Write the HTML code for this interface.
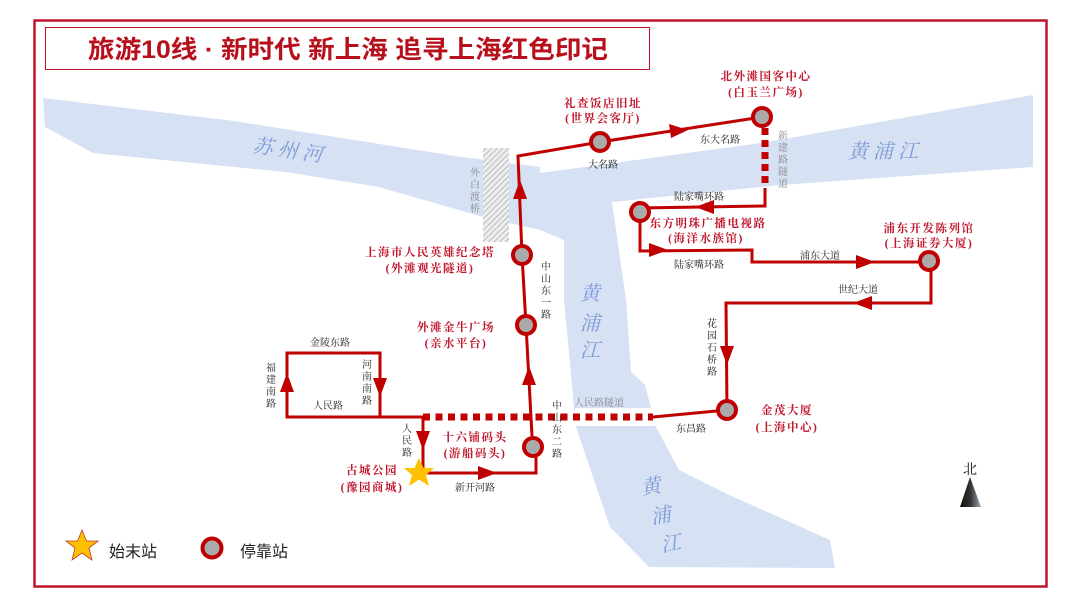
<!DOCTYPE html>
<html><head><meta charset="utf-8"><style>
html,body{margin:0;padding:0;background:#fff;}
svg{display:block;}
text{font-family:"Liberation Serif","Noto Serif CJK SC","Noto Sans CJK SC",serif;}
.s{font-size:10px;fill:#222;}
.r{font-size:11.5px;fill:#c0142a;font-weight:bold;letter-spacing:1.5px;}
.b{font-size:20px;fill:#7d9bd6;font-style:italic;}
.g{font-size:10px;fill:#888;}
</style></head><body>
<svg width="1080" height="608" viewBox="0 0 1080 608" xmlns="http://www.w3.org/2000/svg">
<defs>
<pattern id="h" width="4" height="4" patternUnits="userSpaceOnUse" patternTransform="rotate(45)">
<rect width="4" height="4" fill="#eee"/><line x1="0" y1="0" x2="0" y2="4" stroke="#aaa" stroke-width="1.5"/></pattern>
<linearGradient id="ng" x1="0" x2="1"><stop offset="0" stop-color="#111"/><stop offset="0.5" stop-color="#333"/><stop offset="1" stop-color="#9ab"/></linearGradient>
<marker id="a" viewBox="0 0 10 10" refX="5" refY="5" markerWidth="6" markerHeight="6" orient="auto"><path d="M0,0L10,5L0,10z" fill="#c00000"/></marker>
</defs>
<rect x="34.5" y="20.5" width="1012" height="566" fill="none" stroke="#c0142a" stroke-width="2.5"/>
<rect x="45.5" y="27.5" width="604" height="42" fill="none" stroke="#c0142a" stroke-width="1"/>
<text x="88" y="58" textLength="520" lengthAdjust="spacingAndGlyphs" style="font-family:'Liberation Sans','Noto Sans CJK SC',sans-serif;font-size:25px;font-weight:bold;fill:#b80f1c">旅游10线 · 新时代 新上海 追寻上海红色印记</text>

<!-- rivers -->
<path d="M43,98 L234,121 L462,157 L540,167 L540,173 L761,143 L1033,95 L1033,167 L781,185 L612,202 L626,300 L631,372 L645,385 L656,427 L679,470 L725,493 L830,540 L835,568 L649,567 L610,527 L576,427 L564,300 L564,240 L540,230 L483,217 L379,187 L286,172 L93,153 L45,127 Z" fill="#d6e1f4"/>
<rect x="575" y="408" width="80" height="18" fill="#fff"/>
<rect x="483" y="148" width="26" height="94" fill="url(#h)"/>
<text class="b" transform="translate(252,152) rotate(8)">苏 州 河</text>
<text class="b" x="848" y="158">黄 浦 江</text>
<text class="b" x="580" y="300">黄</text><text class="b" x="580" y="330">浦</text><text class="b" x="580" y="357">江</text>
<text class="b" transform="translate(642,495) rotate(-10)">黄</text><text class="b" transform="translate(652,524) rotate(-10)">浦</text><text class="b" transform="translate(662,552) rotate(-10)">江</text>

<!-- route -->
<g fill="none" stroke="#c00000" stroke-width="3">
<path d="M287,417 L287,353 L380,353 L380,417 Z"/>
<path d="M380,417 L423,417 L423,473"/>
<path d="M423,473 L536,473 L536,447"/>
<path d="M532,436 L526,325 L522,255 L518,156 L600,142 L762,117"/>
<path d="M765,188 L765,206 L640,208 L640,251 L752,250 L752,262 L929,262"/>
<path d="M931,262 L931,303 L726,303 L727,410 L653,417"/>
</g>
<path d="M423,417 L653,417" stroke="#c00000" stroke-width="7" stroke-dasharray="7 5.5" fill="none"/>
<path d="M765,128 L765,188" stroke="#c00000" stroke-width="7" stroke-dasharray="7 5" fill="none"/>
<!-- arrows -->
<g fill="#c00000">
<path d="M287,373 L280,392 L294,392Z"/>
<path d="M380,397 L373,378 L387,378Z"/>
<path d="M423,450 L416,431 L430,431Z"/>
<path d="M497,473 L478,466 L478,480Z"/>
<path d="M529,366 L522,385 L536,385Z"/>
<path d="M520,180 L513,199 L527,199Z"/>
<path d="M688,130 L669,124 L671,138Z"/>
<path d="M695,207 L714,200 L714,214Z"/>
<path d="M668,250 L649,243 L649,257Z"/>
<path d="M875,262 L856,255 L856,269Z"/>
<path d="M853,303 L872,296 L872,310Z"/>
<path d="M727,365 L720,346 L734,346Z"/>
</g>
<!-- stations -->
<g fill="#aaa" stroke="#c00000" stroke-width="4">
<circle cx="522" cy="255" r="9"/><circle cx="526" cy="325" r="9"/><circle cx="533" cy="447" r="9"/>
<circle cx="600" cy="142" r="9"/><circle cx="762" cy="117" r="9"/><circle cx="640" cy="212" r="9"/>
<circle cx="929" cy="261" r="9"/><circle cx="727" cy="410" r="9"/>
</g>
<path d="M419,458 L423.5,468 L434,468 L426,475 L429,486 L419,479.5 L409,486 L412,475 L404,468 L414.5,468Z" fill="#ffc000"/>

<!-- road labels -->
<text class="s" x="310" y="346">金陵东路</text>
<text class="s" x="313" y="409">人民路</text>
<text class="s" x="455" y="491">新开河路</text>
<text class="s" x="676" y="432">东昌路</text>
<text class="s" x="588" y="168">大名路</text>
<text class="s" x="700" y="143">东大名路</text>
<text class="s" x="674" y="200">陆家嘴环路</text>
<text class="s" x="674" y="268">陆家嘴环路</text>
<text class="s" x="800" y="259">浦东大道</text>
<text class="s" x="838" y="293">世纪大道</text>
<g class="s" text-anchor="middle">
<text x="271" y="371">福</text><text x="271" y="383">建</text><text x="271" y="395">南</text><text x="271" y="407">路</text>
<text x="367" y="368">河</text><text x="367" y="380">南</text><text x="367" y="392">南</text><text x="367" y="404">路</text>
<text x="407" y="432">人</text><text x="407" y="444">民</text><text x="407" y="456">路</text>
<text x="557" y="409">中</text><text x="557" y="421">山</text><text x="557" y="433">东</text><text x="557" y="445">二</text><text x="557" y="457">路</text>
<text x="546" y="270">中</text><text x="546" y="282">山</text><text x="546" y="294">东</text><text x="546" y="306">一</text><text x="546" y="318">路</text>
<text x="712" y="327">花</text><text x="712" y="339">园</text><text x="712" y="351">石</text><text x="712" y="363">桥</text><text x="712" y="375">路</text>
</g>
<text class="g" x="574" y="406">人民路隧道</text>
<g class="g" text-anchor="middle">
<text x="475" y="176">外</text><text x="475" y="188">白</text><text x="475" y="200">渡</text><text x="475" y="212">桥</text>
<text x="783" y="139">新</text><text x="783" y="151">建</text><text x="783" y="163">路</text><text x="783" y="175">隧</text><text x="783" y="187">道</text>
</g>

<!-- station labels -->
<g class="r" text-anchor="middle">
<text x="430" y="256">上海市人民英雄纪念塔</text><text x="430" y="272">(外滩观光隧道)</text>
<text x="456" y="331">外滩金牛广场</text><text x="456" y="347">(亲水平台)</text>
<text x="475" y="441">十六铺码头</text><text x="475" y="457">(游船码头)</text>
<text x="372" y="474">古城公园</text><text x="372" y="491">(豫园商城)</text>
<text x="603" y="107">礼查饭店旧址</text><text x="603" y="122">(世界会客厅)</text>
<text x="766" y="80">北外滩国客中心</text><text x="766" y="96">(白玉兰广场)</text>
<text x="708" y="227">东方明珠广播电视路</text><text x="706" y="242">(海洋水族馆)</text>
<text x="929" y="232">浦东开发陈列馆</text><text x="929" y="247">(上海证券大厦)</text>
<text x="787" y="414">金茂大厦</text><text x="787" y="431">(上海中心)</text>
</g>

<!-- north -->
<text x="970" y="474" text-anchor="middle" style="font-size:14px;fill:#111">北</text>
<path d="M970,477 L960,507 L981,507Z" fill="url(#ng)"/>

<!-- legend -->
<path d="M82,530 L86.5,541 L98,541 L89,548 L92,560 L82,553 L72,560 L75,548 L66,541 L77.5,541Z" fill="#ffc000" stroke="#c0392b" stroke-width="0.8"/>
<text x="109" y="557" style="font-family:'Liberation Sans','Noto Sans CJK SC',sans-serif;font-size:16px;fill:#222">始末站</text>
<circle cx="212" cy="548" r="9.5" fill="#aaa" stroke="#c00000" stroke-width="4"/>
<text x="240" y="557" style="font-family:'Liberation Sans','Noto Sans CJK SC',sans-serif;font-size:16px;fill:#222">停靠站</text>
</svg>
</body></html>
